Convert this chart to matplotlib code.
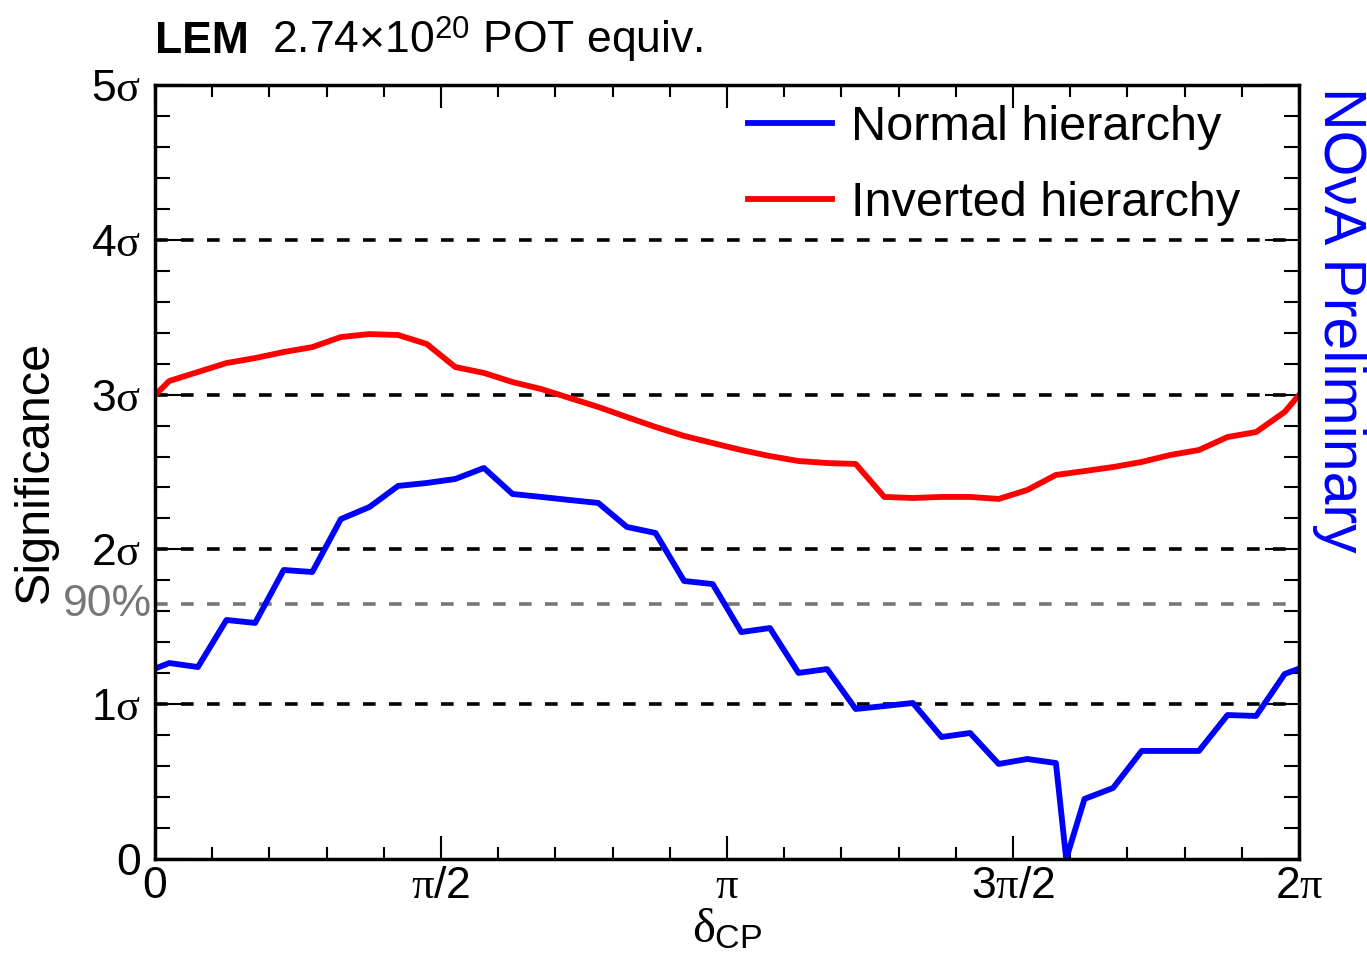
import numpy as np
import matplotlib
matplotlib.use("Agg")
import matplotlib.pyplot as plt
from matplotlib.ticker import MultipleLocator, FixedLocator

plt.rcParams['font.family'] = ['Liberation Sans', 'DejaVu Sans']
plt.rcParams['mathtext.fontset'] = 'custom'
plt.rcParams['mathtext.rm'] = 'Liberation Sans'
plt.rcParams['mathtext.it'] = 'Liberation Serif'
plt.rcParams['mathtext.bf'] = 'Liberation Sans:bold'

PI = np.pi

# delta_CP scan: 40 bin centres plus the two end points (in units of pi)
n_bins = 40
scan_pi = np.concatenate([[0.0], (np.arange(n_bins) + 0.5) * 2.0 / n_bins, [2.0]])

# Significance (sigma) for the inverted hierarchy
sig_ih = [2.997,
          3.088, 3.146, 3.204, 3.236, 3.275, 3.307, 3.372, 3.391, 3.385, 3.327,
          3.178, 3.140, 3.081, 3.036, 2.978, 2.920, 2.855, 2.791, 2.733, 2.687,
          2.642, 2.603, 2.571, 2.558, 2.552, 2.339, 2.332, 2.339, 2.339, 2.326,
          2.384, 2.481, 2.506, 2.532, 2.565, 2.610, 2.642, 2.726, 2.758, 2.888,
          2.997]

# Significance (sigma) for the normal hierarchy
sig_nh = [1.230,
          1.266, 1.240, 1.544, 1.525, 1.867, 1.854, 2.196, 2.274, 2.410, 2.429,
          2.455, 2.526, 2.358, 2.339, 2.319, 2.300, 2.145, 2.106, 1.796, 1.776,
          1.466, 1.492, 1.202, 1.227, 0.969, 0.988, 1.008, 0.788, 0.814, 0.614,
          0.646, 0.620, 0.388, 0.459, 0.698, 0.698, 0.698, 0.930, 0.924, 1.195,
          1.230]

# best-fit point of the normal hierarchy (zero significance)
best_fit_pi = 1.593
best_fit_sig = 0.0

x_ih = np.array(scan_pi) * PI
y_ih = np.array(sig_ih)

order = np.searchsorted(scan_pi, best_fit_pi)
x_nh = np.insert(np.array(scan_pi), order, best_fit_pi) * PI
y_nh = np.insert(np.array(sig_nh), order, best_fit_sig)

sigma_levels = [1, 2, 3, 4]
cl90 = 1.645

x_tick_pos = [0, PI / 2, PI, 3 * PI / 2, 2 * PI]
x_tick_lab = ['0', r'$\pi$/2', r'$\pi$', r'3$\pi$/2', r'2$\pi$']
y_tick_pos = [0, 1, 2, 3, 4, 5]
y_tick_lab = ['0', r'1$\sigma$', r'2$\sigma$', r'3$\sigma$', r'4$\sigma$', r'5$\sigma$']

W, H = 1367, 960
fig = plt.figure(figsize=(W / 100, H / 100), dpi=100)
L, R, T, B = 155, 1299, 85, 859
ax = fig.add_axes([L / W, 1 - B / H, (R - L) / W, (B - T) / H])

dash = (0, (3.5, 3.7))
for lv in sigma_levels:
    ax.axhline(lv, color='black', lw=2.6, ls=dash, zorder=1)
ax.axhline(cl90, color='#777777', lw=2.6, ls=dash, zorder=1)

ax.plot(x_nh, y_nh, color=(0, 0, 1), lw=4.2, label='Normal hierarchy', zorder=3)
ax.plot(x_ih, y_ih, color=(1, 0, 0), lw=4.2, label='Inverted hierarchy', zorder=3)

ax.set_xlim(0, 2 * PI)
ax.set_ylim(0, 5)

ax.xaxis.set_major_locator(FixedLocator(x_tick_pos))
ax.set_xticklabels(x_tick_lab)
ax.xaxis.set_minor_locator(MultipleLocator(PI / 10))
ax.yaxis.set_major_locator(FixedLocator(y_tick_pos))
ax.set_yticklabels(y_tick_lab)
ax.yaxis.set_minor_locator(MultipleLocator(0.2))

ax.tick_params(which='both', direction='in', top=True, right=True, width=1.5,
               labelsize=32, colors='black')
ax.tick_params(axis='x', which='major', length=16.5, pad=5)
ax.tick_params(axis='x', which='minor', length=8.3)
ax.tick_params(axis='y', which='major', length=24.5, pad=10)
ax.tick_params(axis='y', which='minor', length=11)
for s in ax.spines.values():
    s.set_linewidth(2.5)
    s.set_zorder(5)

ax.set_ylabel('Significance', fontsize=35)
ax.yaxis.set_label_coords(-0.085, 0.5)
ax.set_xlabel(r'$\delta_{\mathrm{CP}}$', fontsize=35)
ax.xaxis.set_label_coords(0.5, -0.063)

ax.text(-0.003, cl90, '90%', transform=ax.get_yaxis_transform(), ha='right',
        va='center', fontsize=32, color='#777777')

leg = ax.legend(loc='upper left', bbox_to_anchor=(0.5184, 0.974), frameon=False,
                borderpad=0, borderaxespad=0, handlelength=1.73,
                handletextpad=0.39, labelspacing=0.64, fontsize=35)

fig.text(L / W, 1 - 53 / H, 'LEM', fontsize=32, fontweight='bold',
         ha='left', va='baseline')
fig.text(272 / W, 1 - 53 / H, r'2.74×10$^{20}$ POT equiv.', fontsize=32,
         ha='left', va='baseline')
fig.text(1339 / W, 1 - 87 / H, 'NOνA Preliminary', fontsize=42.5, color=(0, 0, 1),
         rotation=-90, ha='center', va='top')

fig.savefig('out.png', dpi=100)
